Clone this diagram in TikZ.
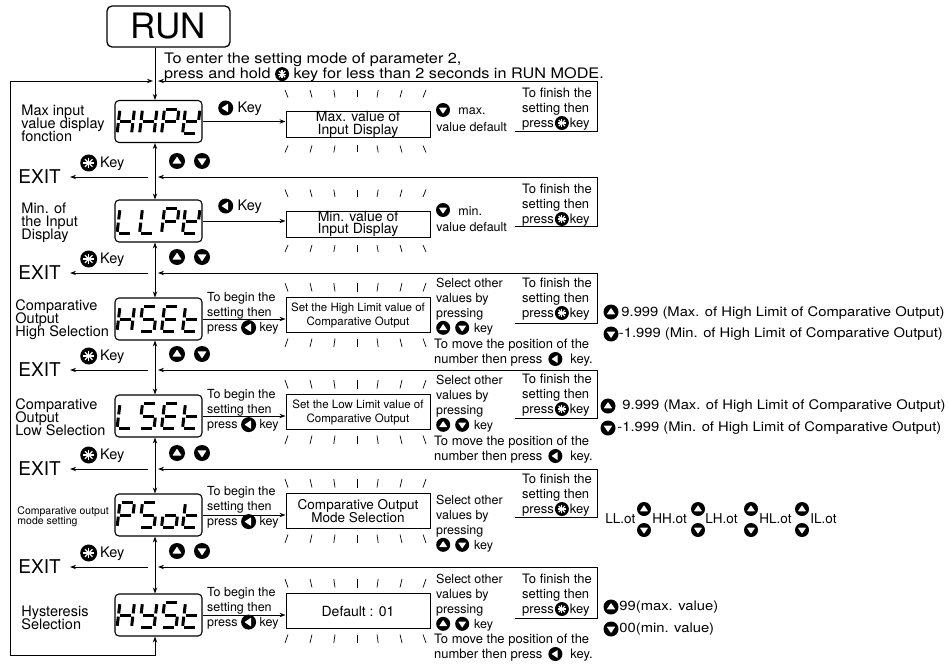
\documentclass[tikz,border=0pt]{standalone}
\usepackage{fontspec}
\setmainfont{TeX Gyre Heros}
\newfontfamily\widefont[FakeStretch=1.12]{TeX Gyre Heros}
\usetikzlibrary{arrows.meta}
\newcommand\fs[2]{\fontsize{#1}{#2}\selectfont\lineskiplimit=-30pt\relax}
\newcommand\icoU[1][7]{\tikz[x=1pt,y=1pt,baseline=-4.2pt]{\fill[black] (0,0) circle (#1);\fill[white,rounded corners=0.5pt] (-0.58*#1,-0.33*#1) -- (0.58*#1,-0.33*#1) -- (0,0.55*#1) -- cycle;}}
\newcommand\icoD[1][7]{\tikz[x=1pt,y=1pt,baseline=-4.2pt]{\fill[black] (0,0) circle (#1);\fill[white,rounded corners=0.5pt] (-0.58*#1,0.33*#1) -- (0.58*#1,0.33*#1) -- (0,-0.55*#1) -- cycle;}}
\newcommand\icoL[1][7]{\tikz[x=1pt,y=1pt,baseline=-4.2pt]{\fill[black] (0,0) circle (#1);\fill[white,rounded corners=0.5pt] (0.33*#1,-0.58*#1) -- (0.33*#1,0.58*#1) -- (-0.55*#1,0) -- cycle;}}
\newcommand\icoS[1][7]{\tikz[x=1pt,y=1pt,baseline=-4.2pt]{\fill[black] (0,0) circle (#1);\foreach \a in {0,45,90,135}{\draw[white,line width=1.2pt] (\a:0.62*#1) -- (\a+180:0.62*#1);}}}
\newcommand\SGa{\draw[segline] (1.7,-12.3) -- (12.8,-12.3);}
\newcommand\SGb{\draw[segline] (14.5,-10.8) -- (14.5,-1.6);}
\newcommand\SGc{\draw[segline] (14.5,1.6) -- (14.5,10.8);}
\newcommand\SGd{\draw[segline] (1.7,12.3) -- (12.8,12.3);}
\newcommand\SGe{\draw[segline] (0,1.6) -- (0,10.8);}
\newcommand\SGf{\draw[segline] (0,-10.8) -- (0,-1.6);}
\newcommand\SGg{\draw[segline] (1.7,0) -- (12.8,0);}
\newcommand\segchar[3]{\begin{scope}[shift={(#1,#2)},xslant=0.12]\foreach \sg in {#3}{\csname SG\sg\endcsname}\end{scope}}
\newcommand\segdisp[5]{\segchar{118.5}{#1}{#2}\segchar{141}{#1}{#3}\segchar{163}{#1}{#4}\segchar{184}{#1}{#5}}
\newcommand\raysat[4]{\foreach \xt/\xb in {285/288,310/312,333.8/335,357/357,378.2/377,402/400,426/423}{\draw[ray] (\xt,#1) -- (\xb,#2); \draw[ray] (\xb,#3) -- (\xt,#4);}}
\begin{document}
\begin{tikzpicture}[x=1pt,y=-1pt,line width=0.85pt,
  arr/.style={-{Stealth[length=6pt,width=4.4pt]}},
  darr/.style={{Stealth[length=6pt,width=4.4pt]}-{Stealth[length=6pt,width=4.4pt]}},
  disp/.style={draw,rounded corners=4pt,line width=1.1pt,minimum width=87pt,minimum height=42pt,inner sep=0},
  setbox/.style={draw,line width=1pt,minimum width=144pt,inner sep=0,align=center},
  txt/.style={inner sep=0,align=left,font=\fs{12.5}{15}},
  otxt/.style={inner sep=0,align=left,font=\widefont\fs{13.2}{15}},
  lbl/.style={inner sep=0,align=left,font=\fs{14.5}{13}},
  segline/.style={line width=3pt},
  ray/.style={line width=0.7pt}]
\useasboundingbox (0,0) rectangle (949,663);
\coordinate (v) at (155,0);

\node[draw,rounded corners=5pt,line width=1.3pt,minimum width=123pt,minimum height=41pt,inner sep=0,font=\fs{35}{35}] (run) at (168.5,26.5) {RUN};
\node[txt,font=\widefont\fs{14.5}{14.5},anchor=north west] (enter) at (164,53) {To enter the setting mode of parameter 2,\\press and hold \icoS\ key for less than 2 seconds in RUN MODE.};

% displays
\node[disp] (d1) at (158.5,121.5) {};
\node[disp] (d2) at (158.5,221) {};
\node[disp] (d3) at (158.5,319) {};
\node[disp] (d4) at (158.5,416) {};
\node[disp] (d5) at (158.5,515) {};
\node[disp] (d6) at (158.5,615) {};
\segdisp{121.5}{b,c,e,f,g}{b,c,e,f,g}{a,b,e,f,g}{b,d,e,f,g}
\segdisp{221}{d,e,f}{d,e,f}{a,b,e,f,g}{b,d,e,f,g}
\segdisp{319}{b,c,e,f,g}{a,c,d,f,g}{a,d,e,f,g}{d,e,f,g}
\segdisp{416}{d,e,f}{a,c,d,f,g}{a,d,e,f,g}{d,e,f,g}
\segdisp{515}{a,b,e,f,g}{a,c,d,f,g}{c,d,e,g}{d,e,f,g}
\segdisp{615}{b,c,e,f,g}{b,c,d,f,g}{a,c,d,f,g}{d,e,f,g}

% labels
\node[lbl,anchor=north west] (l1) at (21,104.5) {Max input\\value display\\fonction};
\node[lbl,anchor=north west] (l2) at (21,202.5) {Min. of\\the Input\\Display};
\node[lbl,anchor=north west] (l3) at (15,299.5) {Comparative\\Output\\High Selection};
\node[lbl,anchor=north west] (l4) at (15,398) {Comparative\\Output\\Low Selection};
\node[lbl,anchor=north west,font=\fs{10.5}{10}] (l5) at (17,506) {Comparative output\\mode setting};
\node[lbl,anchor=north west] (l6) at (21,605) {Hysteresis\\Selection};

% main vertical
\draw[arr] (run.south -| v) -- (d1.north -| v);
\foreach \a/\b in {d1/d2,d2/d3,d3/d4,d4/d5,d5/d6}{\draw[darr] (\a.south -| v) -- (\b.north -| v);}
\coordinate (lp1) at (155,655);
\coordinate (lp2) at (10,655);
\coordinate (lp3) at (10,81);
\coordinate (j1) at (153,81);
\draw[darr] (d6.south -| v) -- (lp1) -- (lp2) -- (lp3) -- (j1);

% setting boxes
\node[setbox,minimum height=26pt,font=\fs{14}{12.5}] (s1) at (358,124.5) {Max. value of\\Input Display};
\node[setbox,minimum height=26pt,font=\fs{14}{12.5}] (s2) at (358,224) {Min. value of\\Input Display};
\node[setbox,minimum height=35pt,font=\fs{11.5}{14}] (s3) at (358,315) {Set the High Limit value of\\Comparative Output};
\node[setbox,minimum height=35pt,font=\fs{11.5}{14}] (s4) at (358,412) {Set the Low Limit value of\\Comparative Output};
\node[setbox,minimum height=35pt,font=\fs{13.5}{13}] (s5) at (358,511) {Comparative Output\\Mode Selection};
\node[setbox,minimum height=35pt,font=\fs{14}{14}] (s6) at (358,611) {Default : 01};
\foreach \i in {1,...,6}{\draw[arr] (d\i.east) -- (d\i.east -| s\i.west);}
\raysat{90}{97.5}{145.5}{152.5}
\raysat{189.5}{197}{245}{252}
\raysat{283}{291.5}{338.5}{347}
\raysat{380}{388.5}{435.5}{444}
\raysat{479}{487.5}{534.5}{543}
\raysat{579}{587.5}{634.5}{643}

% key hints
\node[inner sep=0,anchor=west,font=\fs{14.5}{14}] (k1) at (218,108) {\icoL[7.5]\hspace{4.5pt}Key};
\node[inner sep=0,anchor=west,font=\fs{14.5}{14}] (k2) at (218,206) {\icoL[7.5]\hspace{4.5pt}Key};
\node[txt,anchor=north west] (b3) at (207,292.5) {To begin the\\setting then\\press \icoL[7.5] key};
\node[txt,anchor=north west] (b4) at (207,389.5) {To begin the\\setting then\\press \icoL[7.5] key};
\node[txt,anchor=north west] (b5) at (207,486.5) {To begin the\\setting then\\press \icoL[7.5] key};
\node[txt,anchor=north west] (b6) at (207,587) {To begin the\\setting then\\press \icoL[7.5] key};

% max / min
\node[inner sep=0] (m1i) at (443,110) {\icoD};
\node[txt,anchor=west] (m1a) at (458,111) {max.};
\node[txt,anchor=west] (m1b) at (436,127.5) {value default};
\node[inner sep=0] (m2i) at (443,210) {\icoD};
\node[txt,anchor=west] (m2a) at (458,211) {min.};
\node[txt,anchor=west] (m2b) at (436,227) {value default};

% select / move
\node[txt,anchor=north west] (sel3) at (436,277.5) {Select other\\values by\\pressing\\\icoU\hspace{5pt}\icoD\hspace{5pt}key};
\node[txt,anchor=north west] (sel4) at (436,374.5) {Select other\\values by\\pressing\\\icoU\hspace{5pt}\icoD\hspace{5pt}key};
\node[txt,anchor=north west] (sel5) at (436,494.5) {Select other\\values by\\pressing\\\icoU\hspace{5pt}\icoD\hspace{5pt}key};
\node[txt,anchor=north west] (sel6) at (436,573.5) {Select other\\values by\\pressing\\\icoU\hspace{5pt}\icoD\hspace{5pt}key};
\node[txt,anchor=north west,font=\fs{13}{15}] (mv3) at (434,338.5) {To move the position of the\\number then press\hspace{6pt}\icoL\hspace{8pt}key.};
\node[txt,anchor=north west,font=\fs{13}{15}] (mv4) at (434,435.5) {To move the position of the\\number then press\hspace{6pt}\icoL\hspace{8pt}key.};
\node[txt,anchor=north west,font=\fs{13}{15}] (mv6) at (434,633.5) {To move the position of the\\number then press\hspace{6pt}\icoL\hspace{8pt}key.};

% finish texts and return brackets
\foreach \i/\t in {1/87.5,2/183.5,3/277.5,4/373.5,5/473.5,6/573.5}{
  \node[txt,anchor=north west,font=\fs{13}{15}] (f\i) at (522,\t) {To finish the\\setting then\\press\hspace{1pt}\icoS\hspace{1pt}key};}
\foreach \i/\r/\b in {1/81/131,2/177/226,3/273/323,4/370/418,5/469/517,6/567/618}{
  \coordinate (rj\i) at (158,\r);
  \coordinate (rb\i) at (515,\b);
  \draw[arr] (rb\i) -- (597,\b) -- (597,\r) -- (rj\i);}

% exits
\foreach \i/\r in {2/177,3/273,4/370,5/469,6/567}{
  \node[inner sep=0,anchor=west,font=\fs{19}{19}] (ex\i) at (18,\r) {EXIT};
  \coordinate (xs\i) at (148,\r);
  \draw[arr,shorten >=9pt] (xs\i) -- (ex\i.east);
  \node[inner sep=0,anchor=west,font=\fs{14.5}{14}] (sk\i) at (80,\r-14) {\icoS[8.5]\hspace{3pt}Key};
  \node[inner sep=0] (up\i) at (177,\r-16) {\icoU[8]};
  \node[inner sep=0] (dn\i) at (202,\r-16) {\icoD[8]};}

% outside values
\node[inner sep=0] (o3u) at (611,312) {\icoU[7.5]};
\node[otxt,anchor=west] (o3a) at (621,313) {9.999 (Max. of High Limit of Comparative Output)};
\node[inner sep=0] (o3d) at (611,334) {\icoD[7.5]};
\node[otxt,anchor=west] (o3b) at (618.5,334) {-1.999 (Min. of High Limit of Comparative Output)};
\node[inner sep=0] (o4u) at (608,406) {\icoU[7.5]};
\node[otxt,anchor=west] (o4a) at (622,406) {9.999 (Max. of High Limit of Comparative Output)};
\node[inner sep=0] (o4d) at (608,428) {\icoD[7.5]};
\node[otxt,anchor=west] (o4b) at (617,428) {-1.999 (Min. of High Limit of Comparative Output)};
\node[inner sep=0] (o6u) at (611,607) {\icoU[7.5]};
\node[otxt,anchor=west] (o6a) at (619,607) {99(max. value)};
\node[inner sep=0] (o6d) at (611,629) {\icoD[7.5]};
\node[otxt,anchor=west] (o6b) at (619,629) {00(min. value)};

% output mode sequence
\node[txt,anchor=west,font=\fs{13.5}{15}] (w1) at (605,519) {LL.ot};
\node[txt,anchor=west,font=\fs{13.5}{15}] (w2) at (652,519) {HH.ot};
\node[txt,anchor=west,font=\fs{13.5}{15}] (w3) at (705,519) {LH.ot};
\node[txt,anchor=west,font=\fs{13.5}{15}] (w4) at (759,519) {HL.ot};
\node[txt,anchor=west,font=\fs{13.5}{15}] (w5) at (810,519) {IL.ot};
\foreach \x in {644,698,751,802}{
  \node[inner sep=0] at (\x,509) {\icoU};
  \node[inner sep=0] at (\x,530) {\icoD};}
\end{tikzpicture}
\end{document}
